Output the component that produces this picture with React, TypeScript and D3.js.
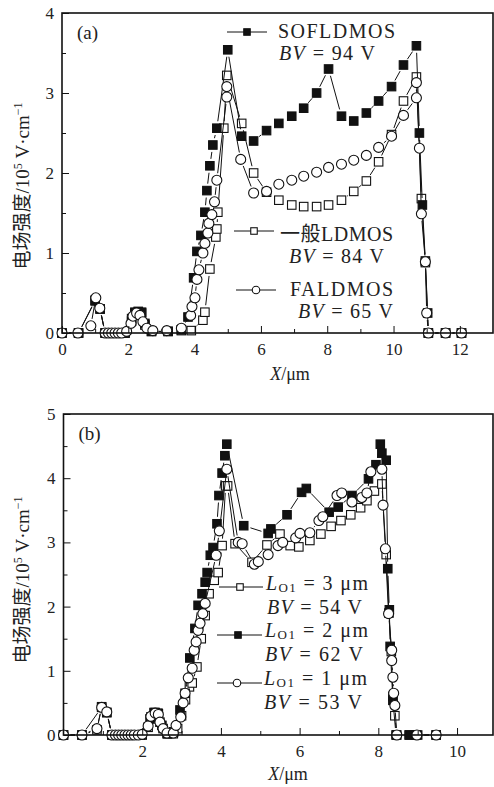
import { useEffect, useRef } from "react";
import * as d3 from "d3";

type Pt = [number, number];

// panel (a): x in um, field in 1e5 V/cm
const aSofl: Pt[] = [
  [0, 0], [0.5, 0], [1.0, 0.41], [1.15, 0.3], [1.3, 0], [1.5, 0], [1.7, 0], [1.9, 0],
  [2.1, 0.18], [2.2, 0.26], [2.3, 0.27], [2.4, 0.26], [2.5, 0.12], [2.7, 0.02], [3.2, 0.02],
  [3.6, 0.04], [3.8, 0.2], [3.97, 0.69], [4.07, 1.02], [4.19, 1.22], [4.31, 1.51], [4.37, 1.78],
  [4.46, 2.09], [4.55, 2.35], [4.67, 2.56], [5.0, 3.54], [5.42, 2.46], [5.78, 2.4], [6.17, 2.53],
  [6.54, 2.62], [6.93, 2.71], [7.29, 2.81], [7.68, 3.0], [8.04, 3.3], [8.43, 2.71], [8.8, 2.65],
  [9.18, 2.75], [9.55, 2.9], [9.94, 3.08], [10.3, 3.35], [10.69, 3.59], [10.78, 2.5], [10.87, 1.6],
  [10.96, 0.9], [11.03, 0.25], [11.05, 0], [11.57, 0], [12.05, 0],
];
const aNormal: Pt[] = [
  [0, 0], [0.5, 0], [1.0, 0.4], [1.15, 0.3], [1.3, 0], [1.5, 0], [1.7, 0], [1.9, 0],
  [2.1, 0.15], [2.2, 0.25], [2.3, 0.26], [2.4, 0.25], [2.5, 0.1], [2.7, 0.02], [3.2, 0.02],
  [3.6, 0.03], [3.9, 0.03], [4.25, 0.16], [4.31, 0.26], [4.46, 0.8], [4.64, 1.2], [4.67, 1.3],
  [4.7, 1.51], [4.88, 2.56], [4.97, 3.22], [5.42, 2.62], [5.78, 2.0], [6.17, 1.76], [6.54, 1.66],
  [6.93, 1.6], [7.29, 1.58], [7.68, 1.58], [8.04, 1.6], [8.43, 1.66], [8.8, 1.77], [9.18, 1.9],
  [9.55, 2.14], [9.94, 2.48], [10.3, 2.9], [10.69, 3.2], [10.84, 1.68], [10.96, 0.88], [11.05, 0],
  [11.57, 0], [12.05, 0],
];
const aFal: Pt[] = [
  [0, 0], [0.48, 0], [0.87, 0.09], [1.02, 0.44], [1.14, 0.31], [1.3, 0], [1.4, 0], [1.5, 0],
  [1.6, 0], [1.7, 0], [1.8, 0], [1.95, 0.02], [2.08, 0.12], [2.14, 0.21], [2.25, 0.25], [2.35, 0.22],
  [2.44, 0.14], [2.56, 0.06], [2.74, 0.03], [3.16, 0.03], [3.6, 0.06], [3.88, 0.22], [3.92, 0.33],
  [4.01, 0.44], [4.07, 0.67], [4.13, 0.79], [4.25, 1.0], [4.31, 1.12], [4.4, 1.25], [4.43, 1.37],
  [4.52, 1.48], [4.6, 1.64], [4.67, 1.91], [4.97, 2.95], [4.97, 3.08], [5.39, 2.17], [5.78, 1.75],
  [6.17, 1.77], [6.54, 1.86], [6.93, 1.91], [7.29, 1.96], [7.68, 2.01], [8.04, 2.07], [8.43, 2.11],
  [8.8, 2.16], [9.18, 2.22], [9.55, 2.32], [9.94, 2.46], [10.3, 2.72], [10.69, 2.94], [10.69, 3.13],
  [10.78, 2.31], [10.84, 1.49], [10.96, 0.89], [11.0, 0.25], [11.05, 0], [11.57, 0], [12.05, 0],
];

// panel (b)
const bL3: Pt[] = [
  [0, 0], [0.47, 0], [0.85, 0.08], [0.97, 0.44], [1.1, 0.35], [1.23, 0], [1.35, 0], [1.45, 0],
  [1.55, 0], [1.65, 0], [1.75, 0], [1.85, 0], [1.95, 0], [2.15, 0.12], [2.22, 0.28], [2.33, 0.35],
  [2.41, 0.33], [2.45, 0.2], [2.53, 0.1], [2.63, 0.02], [2.79, 0.02], [2.9, 0.1], [3.0, 0.3],
  [3.1, 0.55], [3.2, 0.75], [3.27, 0.81], [3.39, 1.06], [3.5, 1.5], [3.6, 1.86], [3.7, 2.2],
  [3.83, 2.41], [3.93, 2.53], [4.03, 2.95], [4.12, 3.88], [4.17, 3.88], [4.36, 2.98], [4.79, 2.69],
  [5.17, 2.96], [5.5, 3.13], [5.76, 2.95], [5.98, 2.93], [6.26, 3.03], [6.54, 3.13], [6.8, 3.25],
  [7.05, 3.34], [7.3, 3.43], [7.55, 3.54], [7.71, 3.65], [7.9, 3.8], [8.09, 3.91], [8.2, 2.81],
  [8.27, 1.9], [8.33, 1.3], [8.37, 0.6], [8.42, 0.3], [8.47, 0], [8.78, 0], [8.96, 0], [9.47, 0],
];
const bL2: Pt[] = [
  [0, 0], [0.47, 0], [0.97, 0.43], [1.1, 0.35], [1.23, 0], [1.5, 0], [1.75, 0], [2.0, 0],
  [2.2, 0.25], [2.3, 0.35], [2.4, 0.34], [2.5, 0.15], [2.65, 0.02], [2.8, 0.05], [2.96, 0.39],
  [3.09, 0.65], [3.21, 1.2], [3.34, 1.66], [3.42, 2.02], [3.52, 2.2], [3.6, 2.38], [3.65, 2.53],
  [3.73, 2.8], [3.8, 2.92], [3.9, 3.29], [3.95, 3.73], [4.03, 4.08], [4.1, 4.35], [4.15, 4.53],
  [4.58, 3.26], [5.2, 3.14], [5.27, 3.21], [5.68, 3.43], [6.05, 3.78], [6.17, 3.84], [6.75, 3.47],
  [6.98, 3.55], [7.33, 3.73], [7.75, 3.99], [7.94, 4.21], [8.05, 4.53], [8.09, 4.39], [8.2, 4.28],
  [8.24, 2.59], [8.28, 1.95], [8.3, 1.38], [8.37, 0.54], [8.45, 0], [8.8, 0], [9.0, 0], [9.47, 0],
];
const bL1: Pt[] = [
  [0, 0], [0.47, 0], [0.85, 0.1], [0.97, 0.43], [1.1, 0.36], [1.23, 0], [1.32, 0], [1.4, 0],
  [1.48, 0], [1.56, 0], [1.64, 0], [1.72, 0], [1.8, 0], [1.9, 0], [2.0, 0.01], [2.15, 0.14],
  [2.22, 0.29], [2.33, 0.34], [2.41, 0.32], [2.45, 0.2], [2.53, 0.1], [2.63, 0.03], [2.79, 0.03],
  [2.86, 0.15], [2.98, 0.28], [3.04, 0.5], [3.09, 0.65], [3.17, 0.89], [3.27, 1.04], [3.32, 1.32],
  [3.37, 1.45], [3.42, 1.63], [3.47, 1.74], [3.54, 1.89], [3.6, 2.05], [3.88, 2.8], [3.96, 3.18],
  [4.15, 4.14], [4.44, 3.0], [4.54, 2.98], [4.85, 2.66], [4.95, 2.7], [5.2, 2.81], [5.45, 2.95],
  [5.57, 3.0], [5.9, 3.07], [6.01, 3.14], [6.26, 3.15], [6.49, 3.34], [6.59, 3.4], [6.95, 3.73],
  [7.07, 3.77], [7.33, 3.63], [7.58, 3.7], [7.71, 3.77], [7.81, 4.1], [8.09, 4.14], [8.12, 3.58],
  [8.18, 2.9], [8.26, 1.89], [8.34, 1.32], [8.34, 1.16], [8.37, 0.9], [8.39, 0.65], [8.42, 0.46],
  [8.47, 0], [8.98, 0], [9.47, 0],
];

const aXMajor = [0, 2, 4, 6, 8, 10, 12];
const aXMinor = [1, 3, 5, 7, 9, 11];
const aYMajor = [0, 1, 2, 3, 4];
const aYMinor = [0.5, 1.5, 2.5, 3.5];
const bXMajor = [2, 4, 6, 8, 10];
const bXMinor = [1, 3, 5, 7, 9];
const bYMajor = [0, 1, 2, 3, 4, 5];
const bYMinor = [0.5, 1.5, 2.5, 3.5, 4.5];

const SERIF = "'Liberation Serif', 'Times New Roman', 'Noto Sans CJK SC', serif";

function drawMarker(g, kind, cx, cy, s) {
  if (kind === "circle") {
    g.append("circle").attr("cx", cx).attr("cy", cy).attr("r", s / 2)
      .attr("fill", "#fff").attr("stroke", "#111").attr("stroke-width", 1.1);
  } else {
    g.append("rect").attr("x", cx - s / 2).attr("y", cy - s / 2).attr("width", s).attr("height", s)
      .attr("fill", kind === "filled" ? "#111" : "#fff")
      .attr("stroke", "#111").attr("stroke-width", 1.1);
  }
}

function drawPanel(svg, p) {
  const x = d3.scaleLinear().domain(p.xDomain).range([p.left, p.right]);
  const y = d3.scaleLinear().domain(p.yDomain).range([p.bottom, p.top]);
  const g = svg.append("g");

  // series: thin line with gaps around markers, then markers
  const gap = 7;
  p.series.forEach(s => {
    const pts = s.data.map(d => [x(d[0]), y(d[1])]);
    for (let i = 0; i < pts.length - 1; i++) {
      const [x0, y0] = pts[i];
      const [x1, y1] = pts[i + 1];
      const len = Math.hypot(x1 - x0, y1 - y0);
      if (len <= gap * 2 + 1) continue;
      const ux = (x1 - x0) / len, uy = (y1 - y0) / len;
      g.append("line")
        .attr("x1", x0 + ux * gap).attr("y1", y0 + uy * gap)
        .attr("x2", x1 - ux * gap).attr("y2", y1 - uy * gap)
        .attr("stroke", "#111").attr("stroke-width", 1);
    }
    pts.forEach(([cx, cy]) => drawMarker(g, s.kind, cx, cy, s.kind === "circle" ? 10 : 8.5));
  });

  // axes, ticks inward
  const styleAxis = a => {
    a.select(".domain").remove();
    a.attr("font-family", SERIF).attr("font-size", 17);
    a.selectAll("text").attr("fill", "#222");
    a.selectAll("line").attr("stroke", "#111");
  };
  g.append("g").attr("transform", `translate(0,${p.bottom})`)
    .call(d3.axisBottom(x).tickValues(p.xMajor).tickSizeInner(-7).tickSizeOuter(0).tickPadding(10).tickFormat(d3.format("d")))
    .call(styleAxis);
  g.append("g").attr("transform", `translate(0,${p.bottom})`)
    .call(d3.axisBottom(x).tickValues(p.xMinor).tickSizeInner(-4).tickSizeOuter(0).tickFormat(() => ""))
    .call(styleAxis);
  g.append("g").attr("transform", `translate(${p.left},0)`)
    .call(d3.axisLeft(y).tickValues(p.yMajor).tickSizeInner(-7).tickSizeOuter(0).tickPadding(8).tickFormat(d3.format("d")))
    .call(styleAxis);
  g.append("g").attr("transform", `translate(${p.left},0)`)
    .call(d3.axisLeft(y).tickValues(p.yMinor).tickSizeInner(-4).tickSizeOuter(0).tickFormat(() => ""))
    .call(styleAxis);

  // frame
  g.append("rect")
    .attr("x", p.left).attr("y", p.top)
    .attr("width", p.right - p.left).attr("height", p.bottom - p.top)
    .attr("fill", "none").attr("stroke", "#111").attr("stroke-width", 1.6);

  // panel tag
  g.append("text").attr("x", p.left + 15).attr("y", p.top + 26)
    .attr("font-family", SERIF).attr("font-size", 19).attr("fill", "#222").text(p.tag);

  // x title
  const xt = g.append("text").attr("x", p.xTitleX).attr("y", p.xTitleY)
    .attr("font-family", SERIF).attr("font-size", 18).attr("fill", "#222")
    .attr("text-anchor", "middle");
  xt.append("tspan").attr("font-style", "italic").text("X");
  xt.append("tspan").text("/μm");

  // y title
  const yt = g.append("text")
    .attr("transform", `translate(29,${p.yTitleY}) rotate(-90)`)
    .attr("font-family", SERIF).attr("font-size", 19).attr("fill", "#222")
    .attr("text-anchor", "middle");
  yt.append("tspan").text("电场强度/10");
  yt.append("tspan").attr("font-size", 12).attr("dy", -7).text("5");
  yt.append("tspan").attr("dy", 7).text(" V·cm");
  yt.append("tspan").attr("font-size", 12).attr("dy", -7).text("−1");

  // legend
  p.legend.forEach(l => {
    g.append("line").attr("x1", l.lx0).attr("x2", l.lx1).attr("y1", l.ly).attr("y2", l.ly)
      .attr("stroke", "#111").attr("stroke-width", 1);
    drawMarker(g, l.kind, l.mx, l.ly, l.kind === "circle" ? 7.5 : 6.5);
    l.lines.forEach(t => {
      const te = g.append("text").attr("x", t.x).attr("y", t.y)
        .attr("font-family", SERIF).attr("font-size", 20).attr("fill", "#222")
        .attr("textLength", t.w).attr("lengthAdjust", "spacing");
      t.parts.forEach(pt => {
        const ts = te.append("tspan").text(pt.s);
        if (pt.it) ts.attr("font-style", "italic");
        if (pt.sub) ts.attr("font-size", 13).attr("dy", 2);
        if (pt.up) ts.attr("dy", -2);
      });
    });
  });
}

const bv = (v: string) => [{ s: "BV", it: true }, { s: " = " + v + " V" }];
const lo = (v: string) => [{ s: "L", it: true }, { s: "O1", sub: true }, { s: " = " + v + " μm", up: true }];

export default function App() {
  const ref = useRef<SVGSVGElement>(null);

  useEffect(() => {
    const svg = d3.select(ref.current);
    svg.selectAll("*").remove();

    drawPanel(svg, {
      left: 62, right: 493, top: 13, bottom: 333,
      xDomain: [0, 13], yDomain: [0, 4],
      xMajor: aXMajor, xMinor: aXMinor, yMajor: aYMajor, yMinor: aYMinor,
      tag: "(a)", xTitleX: 290, xTitleY: 380, yTitleY: 186,
      series: [
        { data: aNormal, kind: "open" },
        { data: aSofl, kind: "filled" },
        { data: aFal, kind: "circle" },
      ],
      legend: [
        { kind: "filled", lx0: 227, lx1: 267, mx: 247, ly: 32,
          lines: [{ x: 278, y: 38, w: 117, parts: [{ s: "SOFLDMOS" }] }, { x: 279, y: 60, w: 96, parts: bv("94") }] },
        { kind: "open", lx0: 234, lx1: 274, mx: 254, ly: 231,
          lines: [{ x: 280, y: 241, w: 113, parts: [{ s: "一般LDMOS" }] }, { x: 289, y: 263, w: 95, parts: bv("84") }] },
        { kind: "circle", lx0: 236, lx1: 276, mx: 256, ly: 290,
          lines: [{ x: 290, y: 296, w: 103, parts: [{ s: "FALDMOS" }] }, { x: 298, y: 318, w: 95, parts: bv("65") }] },
      ],
    });

    drawPanel(svg, {
      left: 63.5, right: 493, top: 414, bottom: 735,
      xDomain: [0, 10.914], yDomain: [0, 5],
      xMajor: bXMajor, xMinor: bXMinor, yMajor: bYMajor, yMinor: bYMinor,
      tag: "(b)", xTitleX: 288, xTitleY: 780, yTitleY: 580,
      series: [
        { data: bL3, kind: "open" },
        { data: bL2, kind: "filled" },
        { data: bL1, kind: "circle" },
      ],
      legend: [
        { kind: "open", lx0: 219, lx1: 263, mx: 240, ly: 587,
          lines: [{ x: 266, y: 590, w: 102, parts: lo("3") }, { x: 267, y: 614, w: 95, parts: bv("54") }] },
        { kind: "filled", lx0: 217, lx1: 262, mx: 238, ly: 635,
          lines: [{ x: 265, y: 637, w: 103, parts: lo("2") }, { x: 265, y: 661, w: 98, parts: bv("62") }] },
        { kind: "circle", lx0: 217, lx1: 262, mx: 237, ly: 683,
          lines: [{ x: 264, y: 685, w: 103, parts: lo("1") }, { x: 264, y: 709, w: 98, parts: bv("53") }] },
      ],
    });
  }, []);

  return (
    <svg ref={ref} width={494} height={787}
      style={{ position: "absolute", left: 0, top: 0, background: "#fff" }} />
  );
}
